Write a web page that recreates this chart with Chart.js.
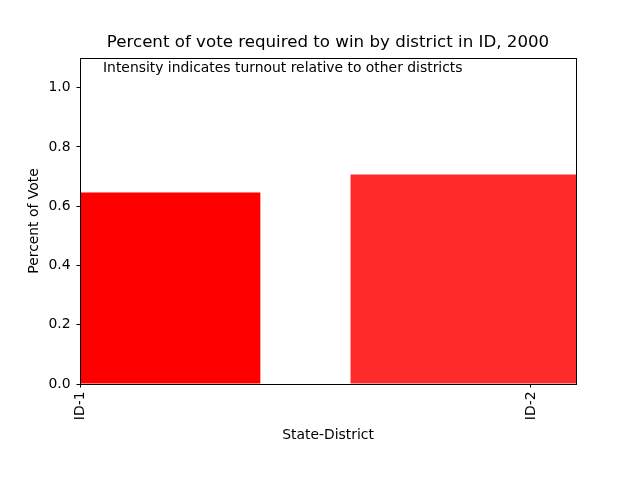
<!DOCTYPE html>
<html>
<head>
<meta charset="utf-8">
<script src="https://cdn.jsdelivr.net/npm/chart.js@4"></script>
<style>
  html, body { margin: 0; padding: 0; background: #fff; }
  #wrap { width: 640px; height: 480px; }
</style>
</head>
<body>
<div id="wrap"><canvas id="chart" width="640" height="480"></canvas></div>
<script>
// Data
const districts = ['ID-1', 'ID-2'];
const positions = [0, 1];
const percentNeeded = [0.646, 0.707];
const barColors = ['rgba(255, 0, 0, 1)', 'rgba(255, 0, 0, 0.835)'];
const yTicks = [0, 0.2, 0.4, 0.6, 0.8, 1.0];

const FONT = "'DejaVu Sans', sans-serif";
const TITLE = 'Percent of vote required to win by district in ID, 2000';
const NOTE = 'Intensity indicates turnout relative to other districts';

// Frame around the plot area, title centred over it, note in the top left
const framePlugin = {
    id: 'frame',
    afterDraw(chart) {
        const { ctx, chartArea } = chart;
        ctx.save();
        ctx.strokeStyle = '#000';
        ctx.lineWidth = 1;
        ctx.strokeRect(Math.round(chartArea.left) + 0.5, Math.round(chartArea.top) + 0.5,
            Math.round(chartArea.right - chartArea.left), Math.round(chartArea.bottom - chartArea.top));
        ctx.fillStyle = '#000';
        ctx.textBaseline = 'middle';
        ctx.font = '16.67px ' + FONT;
        ctx.textAlign = 'center';
        ctx.fillText(TITLE, (chartArea.left + chartArea.right) / 2, 43);
        ctx.font = '13.9px ' + FONT;
        ctx.textAlign = 'left';
        ctx.fillText(NOTE, 103, 68);
        ctx.restore();
    }
};

const ctx = document.getElementById('chart');
new Chart(ctx, {
    type: 'bar',
    data: {
        datasets: [{
            data: positions.map((x, i) => ({ x: x, y: percentNeeded[i] })),
            backgroundColor: barColors,
            borderWidth: 0,
            barPercentage: 0.8,
            categoryPercentage: 1.0
        }]
    },
    options: {
        responsive: false,
        animation: false,
        events: [],
        layout: { padding: { left: 0, right: 64, top: 58, bottom: 0 } },
        plugins: {
            legend: { display: false },
            tooltip: { enabled: false },
            title: { display: false }
        },
        scales: {
            x: {
                type: 'linear',
                min: 0,
                max: 1.1,
                offset: false,
                afterBuildTicks: (scale) => {
                    scale.ticks = positions.map(v => ({ value: v }));
                },
                afterFit: (scale) => { scale.height = 96; },
                ticks: {
                    minRotation: 90,
                    maxRotation: 90,
                    autoSkip: false,
                    color: '#000',
                    padding: 4,
                    font: { family: FONT, size: 13.9 },
                    callback: (v) => districts[positions.indexOf(v)]
                },
                grid: { display: true, drawOnChartArea: false, drawTicks: true, tickLength: 3.5, color: '#000', offset: false },
                border: { display: true, color: '#000' },
                title: {
                    display: true,
                    text: 'State-District',
                    color: '#000',
                    font: { family: FONT, size: 13.9 },
                    padding: { top: 4, bottom: 36 }
                }
            },
            y: {
                min: 0,
                max: 1.1,
                afterBuildTicks: (scale) => {
                    scale.ticks = yTicks.map(v => ({ value: v }));
                },
                afterFit: (scale) => { scale.width = 80; },
                ticks: {
                    color: '#000',
                    padding: 6,
                    font: { family: FONT, size: 13.9 },
                    callback: (v) => v.toFixed(1)
                },
                grid: { display: true, drawOnChartArea: false, drawTicks: true, tickLength: 3.5, color: '#000' },
                border: { display: true, color: '#000' },
                title: {
                    display: true,
                    text: 'Percent of Vote',
                    color: '#000',
                    font: { family: FONT, size: 13.9 },
                    padding: { top: 26, bottom: 4 }
                }
            }
        }
    },
    plugins: [framePlugin]
});
</script>
</body>
</html>
